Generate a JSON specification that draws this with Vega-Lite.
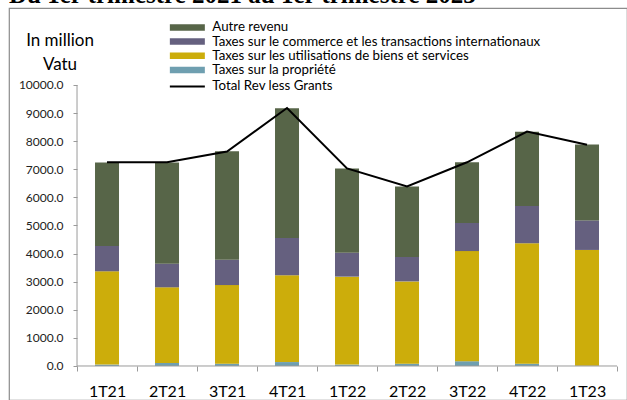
{
  "$schema": "https://vega.github.io/schema/vega-lite/v6.json",
  "width": 618,
  "height": 392,
  "autosize": {"type": "none"},
  "padding": {"left": 9, "top": 8, "right": 0, "bottom": 0},
  "background": "white",
  "title": {
    "text": "Du 1er trimestre 2021 au 1er trimestre 2023",
    "anchor": "start",
    "frame": "group",
    "font": "Liberation Serif",
    "fontSize": 25,
    "fontWeight": "bold",
    "color": "#000000",
    "offset": 0
  },
  "config": {
    "view": {"stroke": "#8c8c8c", "strokeWidth": 1.2},
    "font": "Lato",
    "axis": {"labelOverlap": false, "labelBound": false, "labelFlush": false, "labelSeparation": 0, "grid": false, "domain": false}
  },
  "datasets": {
    "bars": [
      {"q": "1T21", "s": "Taxes sur la propriété", "r": 1, "v": 50},
      {"q": "1T21", "s": "Taxes sur les utilisations de biens et services", "r": 2, "v": 3320},
      {"q": "1T21", "s": "Taxes sur le commerce et les transactions internationaux", "r": 3, "v": 900},
      {"q": "1T21", "s": "Autre revenu", "r": 4, "v": 2970},
      {"q": "2T21", "s": "Taxes sur la propriété", "r": 1, "v": 110},
      {"q": "2T21", "s": "Taxes sur les utilisations de biens et services", "r": 2, "v": 2690},
      {"q": "2T21", "s": "Taxes sur le commerce et les transactions internationaux", "r": 3, "v": 840},
      {"q": "2T21", "s": "Autre revenu", "r": 4, "v": 3600},
      {"q": "3T21", "s": "Taxes sur la propriété", "r": 1, "v": 80},
      {"q": "3T21", "s": "Taxes sur les utilisations de biens et services", "r": 2, "v": 2800},
      {"q": "3T21", "s": "Taxes sur le commerce et les transactions internationaux", "r": 3, "v": 900},
      {"q": "3T21", "s": "Autre revenu", "r": 4, "v": 3860},
      {"q": "4T21", "s": "Taxes sur la propriété", "r": 1, "v": 140},
      {"q": "4T21", "s": "Taxes sur les utilisations de biens et services", "r": 2, "v": 3090},
      {"q": "4T21", "s": "Taxes sur le commerce et les transactions internationaux", "r": 3, "v": 1325},
      {"q": "4T21", "s": "Autre revenu", "r": 4, "v": 4615},
      {"q": "1T22", "s": "Taxes sur la propriété", "r": 1, "v": 50},
      {"q": "1T22", "s": "Taxes sur les utilisations de biens et services", "r": 2, "v": 3130},
      {"q": "1T22", "s": "Taxes sur le commerce et les transactions internationaux", "r": 3, "v": 850},
      {"q": "1T22", "s": "Autre revenu", "r": 4, "v": 3000},
      {"q": "2T22", "s": "Taxes sur la propriété", "r": 1, "v": 80},
      {"q": "2T22", "s": "Taxes sur les utilisations de biens et services", "r": 2, "v": 2930},
      {"q": "2T22", "s": "Taxes sur le commerce et les transactions internationaux", "r": 3, "v": 870},
      {"q": "2T22", "s": "Autre revenu", "r": 4, "v": 2510},
      {"q": "3T22", "s": "Taxes sur la propriété", "r": 1, "v": 170},
      {"q": "3T22", "s": "Taxes sur les utilisations de biens et services", "r": 2, "v": 3920},
      {"q": "3T22", "s": "Taxes sur le commerce et les transactions internationaux", "r": 3, "v": 1000},
      {"q": "3T22", "s": "Autre revenu", "r": 4, "v": 2160},
      {"q": "4T22", "s": "Taxes sur la propriété", "r": 1, "v": 80},
      {"q": "4T22", "s": "Taxes sur les utilisations de biens et services", "r": 2, "v": 4290},
      {"q": "4T22", "s": "Taxes sur le commerce et les transactions internationaux", "r": 3, "v": 1320},
      {"q": "4T22", "s": "Autre revenu", "r": 4, "v": 2650},
      {"q": "1T23", "s": "Taxes sur la propriété", "r": 1, "v": 10},
      {"q": "1T23", "s": "Taxes sur les utilisations de biens et services", "r": 2, "v": 4120},
      {"q": "1T23", "s": "Taxes sur le commerce et les transactions internationaux", "r": 3, "v": 1050},
      {"q": "1T23", "s": "Autre revenu", "r": 4, "v": 2700}
    ],
    "total": [
      {"q": "1T21", "s": "Total Rev less Grants", "v": 7250},
      {"q": "2T21", "s": "Total Rev less Grants", "v": 7250},
      {"q": "3T21", "s": "Total Rev less Grants", "v": 7630},
      {"q": "4T21", "s": "Total Rev less Grants", "v": 9180},
      {"q": "1T22", "s": "Total Rev less Grants", "v": 7030},
      {"q": "2T22", "s": "Total Rev less Grants", "v": 6390},
      {"q": "3T22", "s": "Total Rev less Grants", "v": 7250},
      {"q": "4T22", "s": "Total Rev less Grants", "v": 8340},
      {"q": "1T23", "s": "Total Rev less Grants", "v": 7870}
    ]
  },
  "layer": [
    {
      "data": {"name": "bars"},
      "mark": {"type": "bar", "width": {"band": 0.4}},
      "encoding": {
        "x": {
          "field": "q",
          "type": "nominal",
          "scale": {
            "domain": ["1T21", "2T21", "3T21", "4T21", "1T22", "2T22", "3T22", "4T22", "1T23"],
            "paddingInner": 0,
            "paddingOuter": 0.65,
            "align": 0.872
          },
          "axis": {
            "title": "Vatu", "titleX": 50.5, "titleY": -297, "titleAlign": "center", "titleBaseline": "alphabetic", "titleAngle": 0,
            "titleFont": "Lato", "titleFontSize": 17, "titleFontWeight": "normal", "titleColor": "#000000",
            "orient": "bottom", "offset": -34, "domain": false, "grid": false, "tickBand": "extent",
            "tickSize": 5, "tickColor": "#9a9a9a", "tickWidth": 1, "labelAngle": 0,
            "labelFont": "Lato", "labelFontSize": 16, "labelColor": "#000000", "labelBaseline": "alphabetic", "labelPadding": 25, "labelOverlap": false
          }
        },
        "y": {
          "field": "v",
          "type": "quantitative",
          "stack": "zero",
          "scale": {"domain": [-1210, 12740], "nice": false, "zero": false},
          "axis": {
            "title": "In million", "orient": "left", "offset": -68, "domain": false, "grid": false,
            "values": [0, 1000, 2000, 3000, 4000, 5000, 6000, 7000, 8000, 9000, 10000],
            "tickCount": 11,
            "format": ".1f", "labelOverlap": false, "tickSize": 4, "tickColor": "#9a9a9a",
            "labelFont": "Lato", "labelFontSize": 12, "labelColor": "#222222", "labelPadding": 10,
            "titleAngle": 0, "titleAlign": "center", "titleBaseline": "alphabetic", "titleX": -17.5, "titleY": 37,
            "titleFont": "Lato", "titleFontSize": 17, "titleFontWeight": "normal", "titleColor": "#000000"
          }
        },
        "fill": {
          "field": "s",
          "type": "nominal",
          "scale": {
            "domain": ["Autre revenu", "Taxes sur le commerce et les transactions internationaux", "Taxes sur les utilisations de biens et services", "Taxes sur la propriété"],
            "range": ["#576548", "#65607F", "#CCAD0B", "#6F9FB0"]
          },
          "legend": {
            "title": null, "orient": "none", "legendX": 171.7, "legendY": 12.75, "padding": 0,
            "symbolType": "M-5,-0.93H5V0.93H-5Z", "symbolSize": 49, "symbolStrokeWidth": 0, "labelOffset": 18.3,
            "labelFont": "Lato", "labelFontSize": 13.3, "labelColor": "#000000", "labelLimit": 500, "rowPadding": 0.2
          }
        },
        "order": {"field": "r", "type": "quantitative"}
      }
    },
    {
      "data": {"name": "total"},
      "mark": {"type": "line", "strokeWidth": 2},
      "encoding": {
        "x": {
          "field": "q", "type": "nominal",
          "axis": {
            "title": "Vatu", "titleX": 50.5, "titleY": -297, "titleAlign": "center", "titleBaseline": "alphabetic", "titleAngle": 0,
            "titleFont": "Lato", "titleFontSize": 17, "titleFontWeight": "normal", "titleColor": "#000000",
            "orient": "bottom", "offset": -34, "domain": false, "grid": false, "tickBand": "extent",
            "tickSize": 5, "tickColor": "#9a9a9a", "tickWidth": 1, "labelAngle": 0,
            "labelFont": "Lato", "labelFontSize": 16, "labelColor": "#000000", "labelBaseline": "alphabetic", "labelPadding": 25, "labelOverlap": false
          }
        },
        "y": {
          "field": "v", "type": "quantitative",
          "axis": {
            "title": "In million", "orient": "left", "offset": -68, "domain": false, "grid": false,
            "values": [0, 1000, 2000, 3000, 4000, 5000, 6000, 7000, 8000, 9000, 10000],
            "tickCount": 11,
            "format": ".1f", "labelOverlap": false, "tickSize": 4, "tickColor": "#9a9a9a",
            "labelFont": "Lato", "labelFontSize": 12, "labelColor": "#222222", "labelPadding": 10,
            "titleAngle": 0, "titleAlign": "center", "titleBaseline": "alphabetic", "titleX": -17.5, "titleY": 37,
            "titleFont": "Lato", "titleFontSize": 17, "titleFontWeight": "normal", "titleColor": "#000000"
          }
        },
        "stroke": {
          "field": "s",
          "type": "nominal",
          "scale": {"domain": ["Total Rev less Grants"], "range": ["#000000"]},
          "legend": {
            "title": null, "orient": "none", "legendX": 171.7, "legendY": 71.75, "padding": 0,
            "symbolType": "M-5,0H5", "symbolSize": 49, "symbolStrokeWidth": 2, "labelOffset": 18.3,
            "labelFont": "Lato", "labelFontSize": 13.3, "labelColor": "#000000", "labelLimit": 500
          }
        }
      }
    },
    {
      "data": {"values": [{}]},
      "mark": {"type": "rule", "color": "#9a9a9a", "strokeWidth": 1},
      "encoding": {
        "x": {"datum": "1T21", "type": "nominal", "bandPosition": 0},
        "y": {"datum": 0, "type": "quantitative"},
        "y2": {"datum": 10000}
      }
    },
    {
      "data": {"values": [{}]},
      "mark": {"type": "rule", "color": "#9a9a9a", "strokeWidth": 1},
      "encoding": {
        "x": {"datum": "1T21", "type": "nominal", "bandPosition": 0},
        "x2": {"datum": "1T23", "bandPosition": 1},
        "y": {"datum": 0, "type": "quantitative"}
      }
    }
  ]
}
